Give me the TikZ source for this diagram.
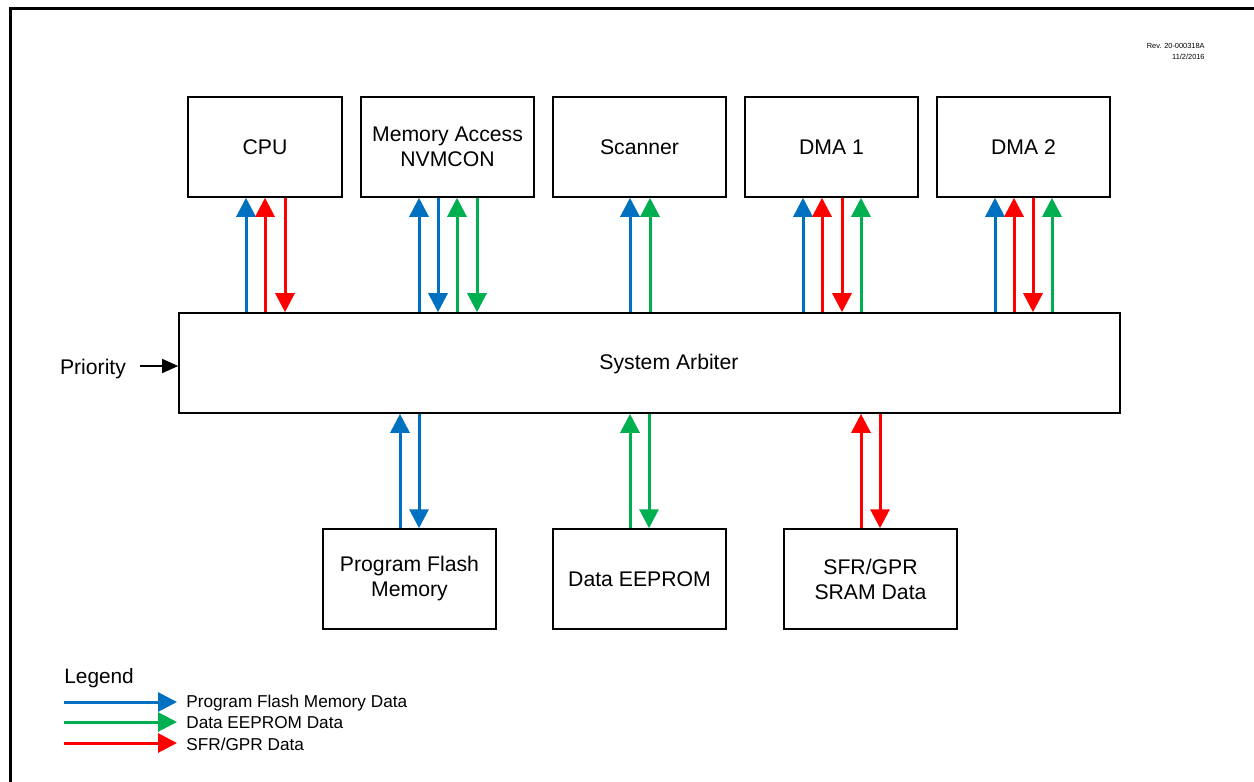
\documentclass[tikz,border=0pt]{standalone}
\usepackage{fontspec}
\setmainfont{Liberation Sans}
\usetikzlibrary{arrows.meta}
\definecolor{pblue}{HTML}{0070C0}
\definecolor{pgreen}{HTML}{00B050}
\definecolor{pred}{HTML}{FF0000}
\tikzset{
  blk/.style={draw=black, line width=0.75pt, minimum width=86.5pt, minimum height=50pt, inner sep=0pt, align=center, font=\fontsize{10.6}{12.5}\selectfont},
  flow/.style={line width=1.5pt, -{Triangle[length=9.5pt,width=9.5pt]}},
  fb/.style={flow, pblue},
  fg/.style={flow, pgreen},
  fr/.style={flow, pred},
  lgtext/.style={anchor=west, inner sep=0pt, font=\fontsize{8.6}{10}\selectfont},
}
\begin{document}
\begin{tikzpicture}[x=0.5pt, y=-0.5pt]
\useasboundingbox (0,0) rectangle (1254,782);
% outer frame
\draw[line width=1.5pt] (10,790) -- (10,8) -- (1262,8);
% revision
\node[anchor=east, align=right, inner sep=0pt, font=\fontsize{3.7}{5.5}\selectfont] (rev) at (1205,51) {Rev. 20-000318A\\11/2/2016};
% top boxes
\node[blk, minimum width=77pt] (cpu) at (265,147) {CPU};
\node[blk] (mem) at (447.5,147) {Memory Access\\NVMCON};
\node[blk] (scan) at (639.5,147) {Scanner};
\node[blk] (dma1) at (831.5,147) {DMA 1};
\node[blk] (dma2) at (1023.5,147) {DMA 2};
% arbiter
\node[draw=black, line width=0.8pt, minimum width=470.5pt, minimum height=50pt, inner sep=0pt] (arb) at (649.5,363) {};
\node[inner sep=0pt, font=\fontsize{10.6}{12.5}\selectfont] (arbtxt) at (669,364) {System Arbiter};
% bottom boxes
\node[blk] (pfm) at (409.5,579) {Program Flash\\Memory};
\node[blk] (ee) at (639.5,579) {Data EEPROM};
\node[blk] (sfr) at (870.5,579) {SFR/GPR\\SRAM Data};
% priority
\node[inner sep=0pt, font=\fontsize{10.6}{12.5}\selectfont] (prio) at (93,369) {Priority};
\coordinate (pst) at (140,366);
\draw[line width=0.75pt, -{Triangle[length=8pt,width=7pt]}] (pst) -- (pst -| arb.west);
% CPU arrows
\draw[fb] (arb.north -| 246,0) -- (cpu.south -| 246,0);
\draw[fr] (arb.north -| 265,0) -- (cpu.south -| 265,0);
\draw[fr] (cpu.south -| 285,0) -- (arb.north -| 285,0);
% Memory access arrows
\draw[fb] (arb.north -| 419,0) -- (mem.south -| 419,0);
\draw[fb] (mem.south -| 438,0) -- (arb.north -| 438,0);
\draw[fg] (arb.north -| 457,0) -- (mem.south -| 457,0);
\draw[fg] (mem.south -| 477,0) -- (arb.north -| 477,0);
% Scanner
\draw[fb] (arb.north -| 630,0) -- (scan.south -| 630,0);
\draw[fg] (arb.north -| 650,0) -- (scan.south -| 650,0);
% DMA 1
\draw[fb] (arb.north -| 803,0) -- (dma1.south -| 803,0);
\draw[fr] (arb.north -| 822,0) -- (dma1.south -| 822,0);
\draw[fr] (dma1.south -| 842,0) -- (arb.north -| 842,0);
\draw[fg] (arb.north -| 861,0) -- (dma1.south -| 861,0);
% DMA 2
\draw[fb] (arb.north -| 995,0) -- (dma2.south -| 995,0);
\draw[fr] (arb.north -| 1014,0) -- (dma2.south -| 1014,0);
\draw[fr] (dma2.south -| 1033,0) -- (arb.north -| 1033,0);
\draw[fg] (arb.north -| 1052,0) -- (dma2.south -| 1052,0);
% bottom arrows
\draw[fb] (pfm.north -| 400,0) -- (arb.south -| 400,0);
\draw[fb] (arb.south -| 419,0) -- (pfm.north -| 419,0);
\draw[fg] (ee.north -| 630,0) -- (arb.south -| 630,0);
\draw[fg] (arb.south -| 649,0) -- (ee.north -| 649,0);
\draw[fr] (sfr.north -| 861,0) -- (arb.south -| 861,0);
\draw[fr] (arb.south -| 880,0) -- (sfr.north -| 880,0);
% legend
\node[anchor=west, inner sep=0pt, font=\fontsize{10.4}{12}\selectfont] (leg) at (64,678) {Legend};
\node[lgtext] (l1) at (186,703) {Program Flash Memory Data};
\node[lgtext] (l2) at (186,723) {Data EEPROM Data};
\node[lgtext] (l3) at (186,744) {SFR/GPR Data};
\coordinate (s1) at (64,702);
\coordinate (s2) at (64,722);
\coordinate (s3) at (64,743);
\draw[fb] (s1) -- (s1 -| 177,0);
\draw[fg] (s2) -- (s2 -| 177,0);
\draw[fr] (s3) -- (s3 -| 177,0);
\end{tikzpicture}
\end{document}
